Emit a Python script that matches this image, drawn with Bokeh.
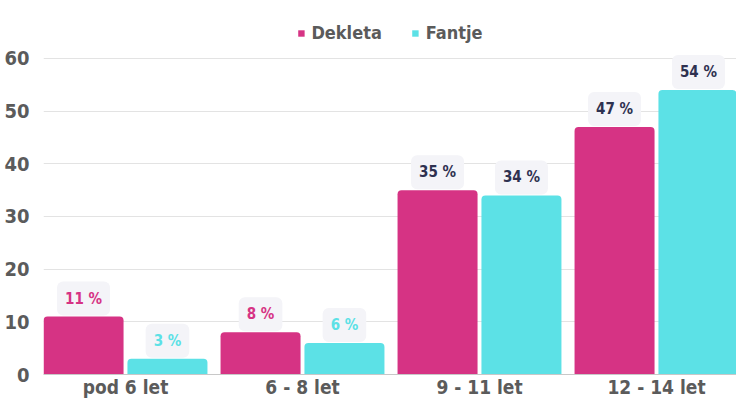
from bokeh.plotting import figure
from bokeh.models import Range1d, FixedTicker, Legend, LegendItem, Label, ColumnDataSource
from bokeh.embed import file_html
from bokeh.resources import INLINE

# ---- data ----
categories = ["pod 6 let", "6 - 8 let", "9 - 11 let", "12 - 14 let"]
series_names = ["Dekleta", "Fantje"]
dekleta = [11, 8, 35, 47]
fantje = [3, 6, 34, 54]
y_ticks = [0, 10, 20, 30, 40, 50, 60]

# ---- style ----
FONT = "DejaVu Sans Condensed"
PINK = "#d63384"
CYAN = "#5ce1e6"
DARK = "#2e3150"
GRAY = "#5b5b5b"
LABEL_BG = "#f4f4f8"
dek_label_colors = [PINK, PINK, DARK, DARK]
fan_label_colors = [CYAN, CYAN, DARK, DARK]

centers = [i + 0.5 for i in range(len(categories))]
off = 0.237
bw = 0.452

p = figure(width=736, height=400, output_backend="svg", toolbar_location=None,
           x_range=Range1d(0.0367, 3.952), y_range=Range1d(0, 71),
           min_border_left=43, min_border_right=0, min_border_top=0, min_border_bottom=0)
p.outline_line_color = None
p.background_fill_color = "white"
p.border_fill_color = "white"

src_d = ColumnDataSource(dict(x=[c - off for c in centers], top=dekleta))
src_f = ColumnDataSource(dict(x=[c + off for c in centers], top=fantje))
r1 = p.vbar(x="x", top="top", bottom=0, width=bw, source=src_d, fill_color=PINK,
            line_color=None, border_radius=(4, 4, 0, 0))
r2 = p.vbar(x="x", top="top", bottom=0, width=bw, source=src_f, fill_color=CYAN,
            line_color=None, border_radius=(4, 4, 0, 0))

for vals, cols, sgn in ((dekleta, dek_label_colors, -1), (fantje, fan_label_colors, 1)):
    for i, v in enumerate(vals):
        p.add_layout(Label(x=centers[i] + sgn * off, y=v, text=f"{v} %", y_offset=18,
                           text_align="center", text_baseline="middle",
                           text_font=FONT, text_font_style="bold", text_font_size="15px",
                           text_color=cols[i], background_fill_color=LABEL_BG,
                           border_radius=6, padding=8))

legend = Legend(items=[LegendItem(label=series_names[0], renderers=[r1]),
                       LegendItem(label=series_names[1], renderers=[r2])],
                orientation="horizontal", location="top_center")
legend.label_text_font = FONT
legend.label_text_font_style = "bold"
legend.label_text_font_size = "18px"
legend.label_text_color = GRAY
legend.glyph_width = 8
legend.glyph_height = 8
legend.label_standoff = 7
legend.spacing = 29
legend.border_line_color = None
legend.background_fill_alpha = 0
legend.padding = 0
legend.margin = 22
p.add_layout(legend)

p.xgrid.grid_line_color = None
p.ygrid.grid_line_color = "#e3e3e3"
p.ygrid.grid_line_width = 1

p.yaxis.ticker = FixedTicker(ticks=y_ticks)
p.yaxis.axis_line_color = None
p.yaxis.major_tick_line_color = None
p.yaxis.major_tick_out = 0
p.yaxis.major_tick_in = 0
p.yaxis.minor_tick_line_color = None
p.yaxis.major_label_standoff = 14
p.yaxis.major_label_text_font = FONT
p.yaxis.major_label_text_font_style = "bold"
p.yaxis.major_label_text_font_size = "20px"
p.yaxis.major_label_text_color = GRAY

p.xaxis.ticker = FixedTicker(ticks=centers)
p.xaxis.major_label_overrides = {c: cat for c, cat in zip(centers, categories)}
p.xaxis.axis_line_color = "#c8c8c8"
p.xaxis.axis_line_width = 1
p.xaxis.major_tick_line_color = None
p.xaxis.major_tick_out = 0
p.xaxis.major_tick_in = 0
p.xaxis.minor_tick_line_color = None
p.xaxis.major_label_standoff = 1
p.xaxis.major_label_text_font = FONT
p.xaxis.major_label_text_font_style = "bold"
p.xaxis.major_label_text_font_size = "19px"
p.xaxis.major_label_text_color = GRAY

open("out.html", "w").write(file_html(p, INLINE))
